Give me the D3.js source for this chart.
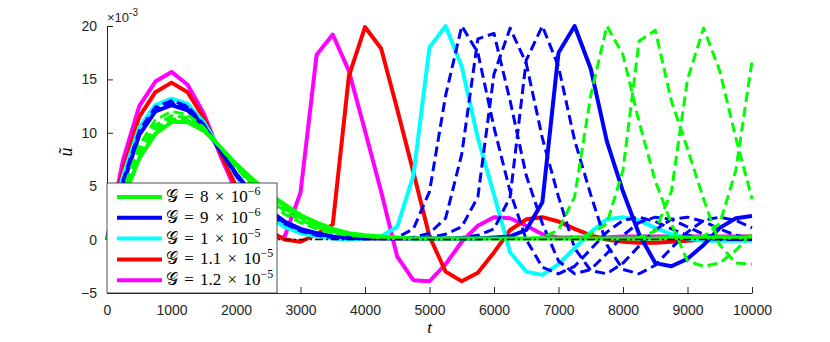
<!DOCTYPE html>
<html>
<head>
<meta charset="utf-8">
<script src="https://cdn.jsdelivr.net/npm/d3@7"></script>
<style>
  body { margin: 0; background: white; }
  svg { display: block; }
  .axis path, .axis line { stroke: #262626; stroke-width: 1; }
  .axis text { font-family: "Liberation Sans", Arial, sans-serif; font-size: 14px; fill: #262626; }
  .legend text { font-family: "Liberation Serif", "DejaVu Serif", serif; font-size: 17px; fill: #000; word-spacing: 2px; }
</style>
</head>
<body>
<svg id="chart"></svg>
<script>
// sample times of the simulation output (every 250)
let times = [0, 250, 500, 750, 1000, 1250, 1500, 1750, 2000, 2250,
  2500, 2750, 3000, 3250, 3500, 3750, 4000, 4250, 4500, 4750,
  5000, 5250, 5500, 5750, 6000, 6250, 6500, 6750, 7000, 7250,
  7500, 7750, 8000, 8250, 8500, 8750, 9000, 9250, 9500, 9750, 10000];

// u~ values, in units of 1e-3
let magenta = [0, 7.5, 12.5, 14.8, 15.7, 14.5, 11.8, 8.0, 4.5, 1.8,
  0.3, 0.2, 4.4, 17.3, 19.2, 15.8, 10.2, 4.5, -1.6, -3.8,
  -3.9, -2.3, -0.2, 1.3, 2.1, 2.0, 1.3, 0.5, 0.2, 0.2,
  0.2, 0.2, 0.3, 0.3, 0.3, 0.3, 0.3, 0.3, 0.3, 0.3, 0.3];

let red = [0, 6.5, 11.5, 13.8, 14.7, 13.8, 11.4, 8.2, 5.0, 2.5,
  0.9, 0.0, -0.2, 0.5, 1.4, 15.3, 19.9, 17.9, 12.2, 6.3,
  0.3, -3.0, -3.9, -3.1, -1.2, 0.9, 1.9, 2.1, 1.7, 1.0,
  0.4, 0.0, -0.2, -0.3, -0.3, -0.2, -0.1, 0.0, 0.1, 0.2, 0.3];

let cyan = [0, 6.0, 10.5, 12.6, 13.2, 12.7, 11.0, 8.5, 6.0, 3.8,
  2.2, 1.2, 0.6, 0.3, 0.1, 0.0, 0.1, 0.3, 1.2, 6.0,
  18.0, 20.0, 16.2, 9.5, 4.2, -1.2, -3.0, -3.3, -2.3, -0.8,
  0.7, 1.9, 2.1, 1.8, 1.1, 0.5, 0.1, -0.1, -0.1, -0.1, -0.1];

let blueDash1 = [0, 5.6, 10.2, 12.4, 13.0, 12.5, 10.8, 8.4, 6.0, 4.0,
  2.5, 1.5, 0.8, 0.4, 0.2, 0.1, 0.1, 0.1, 0.2, 1.0,
  4.5, 13.5, 20.0, 17.5, 10.5, 4.5, 0.0, -2.6, -3.2, -2.5,
  -0.9, 0.7, 1.8, 2.1, 1.7, 1.0, 0.4, 0.1, 0.0, 0.0, 0.0];

let blueDash2 = [0, 5.4, 10.0, 12.2, 12.9, 12.4, 10.7, 8.4, 6.0, 4.1,
  2.6, 1.6, 0.9, 0.5, 0.3, 0.2, 0.1, 0.1, 0.1, 0.2,
  0.6, 2.0, 8.0, 18.8, 19.3, 13.0, 6.0, 1.5, -2.0, -3.2,
  -2.8, -1.3, 0.4, 1.6, 2.1, 1.9, 1.2, 0.5, 0.1, 0.0, 0.0];

let blueDash3 = [0, 5.3, 9.9, 12.1, 12.8, 12.3, 10.7, 8.4, 6.1, 4.2,
  2.7, 1.6, 0.9, 0.5, 0.3, 0.2, 0.1, 0.1, 0.1, 0.1,
  0.2, 0.5, 1.2, 4.0, 15.5, 19.8, 16.5, 9.5, 4.0, -0.8,
  -2.9, -3.2, -2.2, -0.6, 0.9, 1.9, 2.1, 1.7, 1.0, 0.4, 0.1];

let blueDash4 = [0, 5.2, 9.8, 12.0, 12.7, 12.2, 10.6, 8.4, 6.2, 4.3,
  2.8, 1.7, 1.0, 0.6, 0.3, 0.2, 0.1, 0.1, 0.1, 0.1,
  0.1, 0.1, 0.2, 0.4, 1.0, 4.0, 16.8, 20.0, 16.2, 9.3,
  4.2, -0.5, -2.8, -3.2, -2.4, -0.8, 0.7, 1.8, 2.1, 1.8, 1.1];

let blue = [0, 5.2, 9.8, 12.0, 12.6, 12.1, 10.6, 8.4, 6.2, 4.3,
  2.8, 1.7, 1.0, 0.6, 0.3, 0.2, 0.1, 0.1, 0.1, 0.1,
  0.1, 0.1, 0.1, 0.1, 0.2, 0.3, 0.9, 3.5, 17.5, 20.0,
  16.0, 9.2, 4.5, 0.5, -2.2, -2.5, -1.8, -0.5, 1.1, 2.0, 2.2];

let greenDash1 = [0, 4.6, 8.8, 11.2, 12.0, 11.7, 10.5, 8.7, 6.8, 5.0,
  3.6, 2.4, 1.6, 1.0, 0.6, 0.4, 0.3, 0.2, 0.1, 0.1,
  0.1, 0.1, 0.1, 0.1, 0.1, 0.1, 0.1, 0.2, 0.9, 4.0,
  13.5, 20.0, 17.3, 11.0, 5.5, 1.5, -2.0, -2.5, -2.2, -1.0, 0.6];

let greenDash2 = [0, 4.3, 8.3, 10.7, 11.6, 11.4, 10.4, 8.7, 6.9, 5.2,
  3.8, 2.7, 1.8, 1.2, 0.7, 0.5, 0.3, 0.2, 0.1, 0.1,
  0.1, 0.1, 0.1, 0.1, 0.1, 0.1, 0.1, 0.1, 0.1, 0.2,
  0.5, 1.5, 6.5, 18.6, 19.6, 13.0, 8.5, 3.8, -0.5, -2.2, -2.3];

let greenDash3 = [0, 4.1, 8.0, 10.4, 11.3, 11.2, 10.3, 8.7, 7.0, 5.4,
  4.0, 2.9, 2.0, 1.3, 0.8, 0.5, 0.3, 0.2, 0.1, 0.1,
  0.1, 0.1, 0.1, 0.1, 0.1, 0.1, 0.1, 0.1, 0.1, 0.1,
  0.1, 0.1, 0.1, 0.2, 0.8, 4.5, 15.0, 19.8, 15.8, 9.5, 3.8];

let greenDash4 = [0, 3.9, 7.8, 10.1, 11.1, 11.1, 10.2, 8.7, 7.0, 5.5,
  4.2, 3.1, 2.1, 1.4, 0.9, 0.6, 0.4, 0.2, 0.1, 0.1,
  0.1, 0.1, 0.1, 0.1, 0.1, 0.1, 0.1, 0.1, 0.1, 0.1,
  0.1, 0.1, 0.1, 0.1, 0.1, 0.1, 0.1, 0.3, 1.5, 6.5, 16.7];

let green = [0, 3.8, 7.6, 9.9, 11.0, 11.0, 10.2, 8.7, 7.1, 5.7,
  4.4, 3.3, 2.3, 1.6, 1.0, 0.6, 0.4, 0.3, 0.2, 0.1,
  0.1, 0.1, 0.1, 0.1, 0.1, 0.1, 0.1, 0.1, 0.1, 0.1,
  0.1, 0.1, 0.1, 0.1, 0.1, 0.2, 0.2, 0.2, 0.2, 0.2, 0.2];

// legend entries
let legendMantissa = ['8', '9', '1', '1.1', '1.2'];
let legendExponent = ['\u22126', '\u22126', '\u22125', '\u22125', '\u22125'];

let xTicks = [0, 1000, 2000, 3000, 4000, 5000, 6000, 7000, 8000, 9000, 10000];
let yTicks = [-5, 0, 5, 10, 15, 20];

// configuration of svg/plot area
let config = { svg: {}, plot: {} };
config.svg.width = 830;
config.svg.height = 342;
config.plot.left = 107;
config.plot.right = 752;
config.plot.top = 26;
config.plot.bottom = 293;

let svg = d3.select('svg#chart');
svg.attr('width', config.svg.width);
svg.attr('height', config.svg.height);

let scale = {};
scale.x = d3.scaleLinear().domain([0, 10000]).range([config.plot.left, config.plot.right]);
scale.y = d3.scaleLinear().domain([-5, 20]).range([config.plot.bottom, config.plot.top]);

// plotting order: last one ends up on top
let series = [
  { values: magenta, color: '#ff00ff', dash: null },
  { values: red, color: '#ff0000', dash: null },
  { values: cyan, color: '#00ffff', dash: null },
  { values: blueDash1, color: '#0000ff', dash: '10,5' },
  { values: blueDash2, color: '#0000ff', dash: '10,5' },
  { values: blueDash3, color: '#0000ff', dash: '10,5' },
  { values: blueDash4, color: '#0000ff', dash: '10,5' },
  { values: blue, color: '#0000ff', dash: null },
  { values: greenDash1, color: '#00ff00', dash: '10,5' },
  { values: greenDash2, color: '#00ff00', dash: '10,5' },
  { values: greenDash3, color: '#00ff00', dash: '10,5' },
  { values: greenDash4, color: '#00ff00', dash: '10,5' },
  { values: green, color: '#00ff00', dash: null }
];

let line = d3.line()
  .x((d, i) => scale.x(times[i]))
  .y(d => scale.y(d));

// axes (ticks point inwards, no box)
let axis = {};
axis.x = d3.axisBottom(scale.x).tickValues(xTicks).tickFormat(d3.format('d'))
  .tickSizeInner(-6).tickSizeOuter(0).tickPadding(12);
axis.y = d3.axisLeft(scale.y).tickValues(yTicks).tickFormat(d3.format('d'))
  .tickSizeInner(-6).tickSizeOuter(0).tickPadding(10);

let gx = svg.append('g');
gx.attr('class', 'axis');
gx.attr('transform', translate(0, config.plot.bottom));
gx.call(axis.x);

let gy = svg.append('g');
gy.attr('class', 'axis');
gy.attr('transform', translate(config.plot.left, 0));
gy.call(axis.y);

// curves
let plot = svg.append('g').attr('id', 'plot');
plot.selectAll('path.curve')
  .data(series)
  .enter()
  .append('path')
  .attr('class', 'curve')
  .attr('d', d => line(d.values))
  .attr('fill', 'none')
  .attr('stroke', d => d.color)
  .attr('stroke-width', d => d.dash ? 3 : 4)
  .attr('stroke-dasharray', d => d.dash)
  .attr('stroke-linejoin', 'round');

// zero reference line
plot.append('line')
  .attr('x1', scale.x(0))
  .attr('x2', scale.x(10000))
  .attr('y1', scale.y(0))
  .attr('y2', scale.y(0))
  .attr('stroke', '#000')
  .attr('stroke-width', 1.5)
  .attr('stroke-dasharray', '8,3,2,3');

// exponent label
let expo = svg.append('text')
  .attr('x', config.plot.left)
  .attr('y', 22)
  .style('font-family', '"Liberation Sans", Arial, sans-serif')
  .style('font-size', '13px')
  .style('fill', '#262626');
expo.append('tspan').text('\u00d710');
expo.append('tspan').attr('dy', -6).style('font-size', '10px').text('-3');

// axis labels
svg.append('text')
  .attr('x', scale.x(5000))
  .attr('y', 333)
  .attr('text-anchor', 'middle')
  .style('font-family', '"Liberation Serif", serif')
  .style('font-style', 'italic')
  .style('font-size', '17px')
  .text('t');

svg.append('text')
  .attr('transform', translate(72, 152) + ' rotate(-90)')
  .attr('text-anchor', 'middle')
  .style('font-family', '"Liberation Serif", serif')
  .style('font-style', 'italic')
  .style('font-size', '18px')
  .text('\u0169');

// legend
let legendColors = ['#00ff00', '#0000ff', '#00ffff', '#ff0000', '#ff00ff'];
let legend = svg.append('g').attr('class', 'legend');
legend.append('rect')
  .attr('x', config.plot.left)
  .attr('y', 183)
  .attr('width', 170)
  .attr('height', config.plot.bottom - 183)
  .attr('fill', 'white')
  .attr('stroke', '#262626')
  .attr('stroke-width', 0.8);

let rows = legend.selectAll('g.row')
  .data(legendMantissa)
  .enter()
  .append('g')
  .attr('class', 'row')
  .attr('transform', (d, i) => translate(0, 197 + i * 20.8));

rows.append('line')
  .attr('x1', 117).attr('x2', 162)
  .attr('y1', 0).attr('y2', 0)
  .attr('stroke', (d, i) => legendColors[i])
  .attr('stroke-width', 4);

let labels = rows.append('text')
  .attr('x', 166)
  .attr('y', 5);
labels.append('tspan').style('font-weight', 'normal').text('\ud835\udca2');
labels.append('tspan').text(d => ' = ' + d + ' \u00d7 10');
labels.append('tspan')
  .attr('dy', -7)
  .style('font-size', '12px')
  .text((d, i) => legendExponent[i]);

// helper method to make translating easier
function translate(x, y) {
  return 'translate(' + x + ',' + y + ')';
}
</script>
</body>
</html>
